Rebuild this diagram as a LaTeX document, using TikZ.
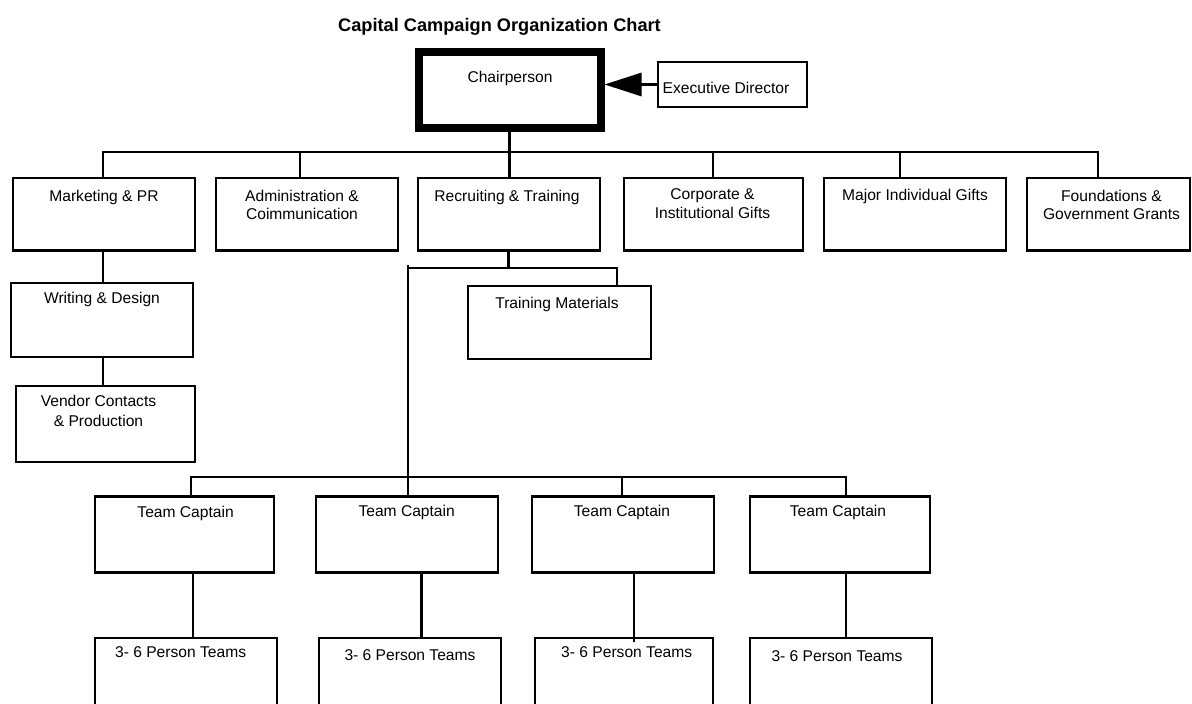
\documentclass[tikz,border=0pt]{standalone}
\usepackage{fontspec}
\setmainfont{Liberation Sans}
\usetikzlibrary{arrows.meta}
\begin{document}
\begin{tikzpicture}[x=1pt,y=-1pt,
  orgbox/.style={draw, line width=2.9pt, inner sep=0pt, fill=white},
  wh/.style 2 args={minimum width=#1pt, minimum height=#2pt},
  conn/.style={draw, line width=2.9pt, line join=miter},
  lbl/.style={font=\fontsize{15.6}{17.7}\selectfont, inner sep=0pt},
  lbltwo/.style={lbl, align=center, anchor=north},
  ttl/.style={font=\fontsize{18.2}{21}\bfseries\selectfont, inner sep=0pt}]
\useasboundingbox (0,0) rectangle (1192,704);
\fill[white] (0,0) rectangle (1192,704);
\clip (0,0) rectangle (1192,704);

% title
\node[ttl, anchor=base] (title) at (499.5,31.7) {Capital Campaign Organization Chart};

% boxes
\node[orgbox, wh={181.5}{76}, line width=8pt] (chair) at (509.75,90) {};
\node[orgbox, wh={149}{45}] (ed) at (732.5,84.5) {};

\node[orgbox, wh={182}{72.5}] (mkt)  at (104,214.25) {};
\node[orgbox, wh={182}{72.5}] (adm)  at (307,214.25) {};
\node[orgbox, wh={182}{72.5}] (rec)  at (509,214.25) {};
\node[orgbox, wh={179}{72.5}] (corp) at (713.5,214.25) {};
\node[orgbox, wh={182}{72.5}] (maj)  at (915,214.25) {};
\node[orgbox, wh={163}{72.5}] (fnd)  at (1108.5,214.25) {};

\node[orgbox, wh={182}{74}] (wri) at (102,320) {};
\node[orgbox, wh={179}{76}] (ven) at (105.5,424) {};
\node[orgbox, wh={183}{73}] (trn) at (559.5,322.5) {};

\node[orgbox, wh={179}{76}] (tc1) at (184.5,534.5) {};
\node[orgbox, wh={182}{76}] (tc2) at (407,534.5) {};
\node[orgbox, wh={182}{76}] (tc3) at (623,534.5) {};
\node[orgbox, wh={180}{76}] (tc4) at (840,534.5) {};

\node[orgbox, wh={182}{82}] (tm1) at (186,679) {};
\node[orgbox, wh={182}{82}] (tm2) at (410,679) {};
\node[orgbox, wh={178}{82}] (tm3) at (624,679) {};
\node[orgbox, wh={182}{82}] (tm4) at (841,679) {};

% labels
\node[lbl, anchor=base] (chair-t) at (510,82.7) {Chairperson};
\node[lbl, anchor=base] (ed-t) at (726,93.3) {Executive Director};
\node[lbl, anchor=base] (mkt-t) at (104,201.7) {Marketing \& PR};
\node[lbltwo] (adm-t) at (302,190.4) {Administration \&\\Coimmunication};
\node[lbl, anchor=base] (rec-t) at (507,201.7) {Recruiting \& Training};
\node[lbltwo, font=\fontsize{15.6}{19}\selectfont] (corp-t) at (712.5,188.6) {Corporate \&\\Institutional Gifts};
\node[lbl, anchor=base] (maj-t) at (915,200) {Major Individual Gifts};
\node[lbltwo] (fnd-t) at (1111.5,190.4) {Foundations \&\\Government Grants};
\node[lbl, anchor=base] (wri-t) at (102,303.3) {Writing \& Design};
\node[lbltwo, font=\fontsize{15.6}{20}\selectfont] (ven-t) at (98.5,395.4) {Vendor Contacts\\\& Production};
\node[lbl, anchor=base] (trn-t) at (557,308) {Training Materials};
\node[lbl, anchor=base] (tc1-t) at (185.6,517) {Team Captain};
\node[lbl, anchor=base] (tc2-t) at (406.7,516.7) {Team Captain};
\node[lbl, anchor=base] (tc3-t) at (622,516.7) {Team Captain};
\node[lbl, anchor=base] (tc4-t) at (838,516) {Team Captain};
\node[lbl, anchor=base] (tm1-t) at (180.6,657) {3- 6 Person Teams};
\node[lbl, anchor=base] (tm2-t) at (410,660.7) {3- 6 Person Teams};
\node[lbl, anchor=base] (tm3-t) at (626.7,657.7) {3- 6 Person Teams};
\node[lbl, anchor=base] (tm4-t) at (837,661) {3- 6 Person Teams};

% executive director arrow
\draw[conn, -{Triangle[length=37pt,width=23pt]}] (ed.west) -- (ed.west -| chair.east);

% top bus
\coordinate (b1L) at (103,152);
\coordinate (b1R) at (1098,152);
\coordinate (b1a) at (300,152);
\coordinate (b1c) at (713,152);
\coordinate (b1m) at (900,152);
\draw[conn] (b1L |- mkt.north) -- (b1L) -- (b1R) -- (b1R |- fnd.north);
\draw[conn] (chair.south) -- (chair.south |- rec.north);
\draw[conn] (b1a) -- (b1a |- adm.north);
\draw[conn] (b1c) -- (b1c |- corp.north);
\draw[conn] (b1m) -- (b1m |- maj.north);

% marketing column
\coordinate (mx) at (103,300);
\draw[conn] (mx |- mkt.south) -- (mx |- wri.north);
\draw[conn] (mx |- wri.south) -- (mx |- ven.north);

% recruiting subtree
\coordinate (r1) at (508.5,268);
\coordinate (b2L) at (408,268);
\coordinate (b2R) at (617,268);
\coordinate (b2top) at (408,265);
\draw[conn] (r1 |- rec.south) -- (r1);
\draw[conn] (b2L) -- (b2R) -- (b2R |- trn.north);
\draw[conn] (b2top) -- (b2top |- tc2.north);

% team captain bus
\coordinate (b3L) at (191,477);
\coordinate (b3R) at (846,477);
\coordinate (b3c) at (622,477);
\draw[conn] (b3L |- tc1.north) -- (b3L) -- (b3R) -- (b3R |- tc4.north);
\draw[conn] (b3c) -- (b3c |- tc3.north);

% captain to teams
\coordinate (x1) at (193,600);
\coordinate (x2) at (421.5,600);
\coordinate (x3) at (634,600);
\coordinate (x4) at (846,600);
\draw[conn] (x1 |- tc1.south) -- (x1 |- tm1.north);
\draw[conn] (x2 |- tc2.south) -- (x2 |- tm2.north);
\draw[conn] (x3 |- tc3.south) -- ([yshift=-5pt]x3 |- tm3.north);
\draw[conn] (x4 |- tc4.south) -- (x4 |- tm4.north);
\end{tikzpicture}
\end{document}
